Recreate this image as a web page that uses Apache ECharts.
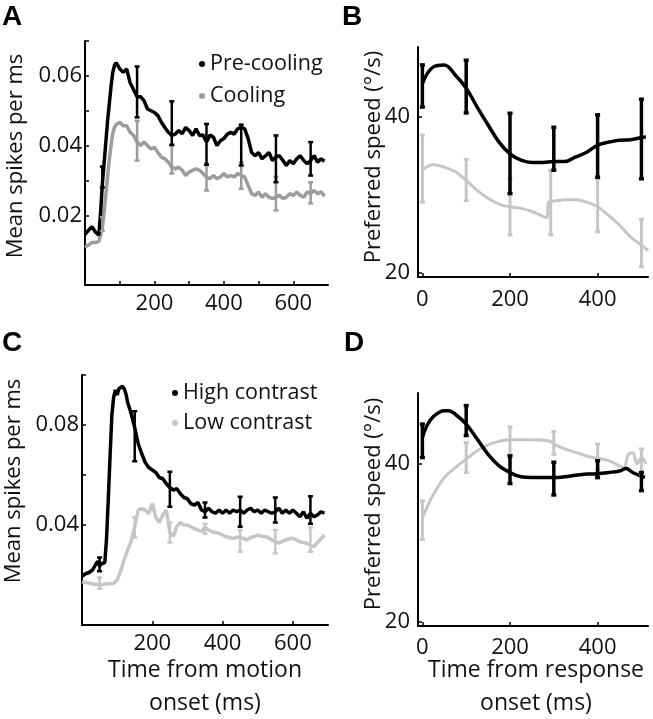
<!DOCTYPE html>
<html>
<head>
<meta charset="utf-8">
<script src="https://cdn.jsdelivr.net/npm/echarts@6/dist/echarts.min.js"></script>
<style>
html,body{margin:0;padding:0;background:#fff;}
#chart{width:653px;height:719px;}
</style>
</head>
<body>
<div id="chart"></div>
<script>
// ---------- Panel A : firing rate, pre-cooling vs cooling ----------
const timeA = [0,10,20,30,40,45,50,55,60,65,70,75,80,85,90,100,110,120,130,140,150,160,170,180,190,200,210,220,230,240,250,260,270,280,290,300,310,320,330,340,350,360,370,380,390,400,410,420,430,440,450,460,470,480,490,500,510,520,530,540,550,560,570,580,590,600,610,620,630,640,650,660,670,680,690];
const preCooling = [0.0145,0.0157,0.0167,0.0152,0.0143,0.021,0.029,0.035,0.041,0.047,0.052,0.057,0.061,0.063,0.0638,0.062,0.061,0.062,0.058,0.056,0.054,0.054,0.0529,0.0505,0.050,0.0495,0.0486,0.0467,0.0452,0.0438,0.0429,0.0433,0.0443,0.0434,0.0452,0.0443,0.0429,0.0448,0.0429,0.043,0.041,0.043,0.0424,0.040,0.0414,0.042,0.0433,0.0438,0.0433,0.0448,0.0452,0.0448,0.042,0.038,0.0371,0.038,0.0362,0.0371,0.038,0.0357,0.0367,0.0371,0.0357,0.0343,0.0357,0.0348,0.0362,0.0371,0.0357,0.0348,0.0357,0.0371,0.0352,0.0362,0.0355];
const cooling = [0.0108,0.0115,0.0122,0.0122,0.0125,0.0128,0.0165,0.021,0.026,0.031,0.036,0.040,0.0435,0.0452,0.046,0.0467,0.0457,0.0457,0.0438,0.0429,0.041,0.040,0.041,0.040,0.039,0.0395,0.038,0.0367,0.0362,0.0352,0.0338,0.0333,0.0338,0.0329,0.0314,0.0324,0.0329,0.0333,0.0329,0.032,0.031,0.0305,0.0314,0.0305,0.031,0.032,0.031,0.0314,0.031,0.032,0.0314,0.031,0.0286,0.0262,0.0257,0.0267,0.0252,0.0262,0.0252,0.0248,0.0252,0.0257,0.0248,0.0252,0.0262,0.0257,0.0267,0.0257,0.0252,0.0267,0.0262,0.0271,0.0262,0.0267,0.0255];
const errTimeA = [50,150,250,350,450,550,650];
const preLoA = [0.028,0.0481,0.0402,0.0345,0.0343,0.0295,0.0314];
const preHiA = [0.034,0.0627,0.0527,0.0462,0.046,0.0429,0.041];
const coolLoA = [0.0155,0.0357,0.032,0.0271,0.0276,0.0214,0.0234];
const coolHiA = [0.0195,0.0471,0.040,0.0348,0.0352,0.031,0.0295];
const xTicksA = [100,200,300,400,500,600];
const xLabelsA = [200,400,600];
const yTicksA = [0.02,0.03,0.04,0.05,0.06,0.07];
const yLabelsA = [0.02,0.04,0.06];

// ---------- Panel B : preferred speed, pre-cooling vs cooling ----------
const timeBpre = [0,25,50,75,100,125,150,175,200,225,250,275,300,325,350,375,400,425,450,475,500,510];
const speedBpre = [44.3,46.45,46.7,45.4,43.7,41.3,39.0,36.8,35.3,34.5,34.2,34.2,34.3,34.3,34.9,35.5,36.4,36.8,37.05,37.1,37.4,37.45];
const timeBcool = [0,25,50,75,100,125,150,175,200,225,250,284,288,310,325,350,375,400,425,450,475,500,515];
const speedBcool = [33.2,33.9,33.6,33.0,31.9,30.6,29.6,28.85,28.5,28.3,27.9,27.1,29.1,29.3,29.4,29.4,29.1,28.5,27.4,26.15,24.65,23.6,22.9];
const errTimeBpre = [0,100,200,300,400,500];
const preLoB = [41.3,40.55,30.2,33.2,32.3,32.1];
const preHiB = [46.7,47.3,40.5,38.7,40.3,42.3];
const errTimeBcool = [0,100,200,293,400,500];
const coolLoB = [29.1,29.3,24.9,24.9,25.3,20.8];
const coolHiB = [37.7,34.6,32.1,33.2,32.1,26.9];

// ---------- Panel C : firing rate, high vs low contrast ----------
const timeChigh = [0,10,20,30,40,45,50,55,60,65,70,75,80,85,90,95,100,105,110,115,120,125,130,140,150,160,170,180,190,200,210,220,230,240,250,260,270,280,290,300,310,320,330,340,350,360,370,380,390,400,410,420,430,440,450,460,470,480,490,500,510,520,530,540,550,560,570,580,590,600,610,620,630,640,650,660,670,680,690];
const highContrast = [0.0195,0.0205,0.021,0.022,0.0245,0.0255,0.0235,0.0245,0.0245,0.025,0.035,0.051,0.068,0.084,0.091,0.094,0.092,0.0945,0.094,0.0955,0.0945,0.0925,0.089,0.0845,0.079,0.0725,0.0685,0.065,0.063,0.062,0.061,0.059,0.0585,0.0565,0.055,0.054,0.0545,0.0525,0.051,0.0505,0.0485,0.048,0.049,0.046,0.0453,0.0467,0.0453,0.0447,0.046,0.0447,0.046,0.0447,0.046,0.0453,0.046,0.0447,0.046,0.0467,0.0453,0.046,0.0447,0.046,0.0453,0.0447,0.0453,0.0467,0.0447,0.046,0.0447,0.046,0.0447,0.0433,0.0453,0.0427,0.0447,0.0433,0.044,0.0453,0.0447];
const timeClow = [0,10,20,30,40,50,60,70,80,90,100,110,120,130,140,150,160,170,180,190,200,210,220,230,240,250,260,270,280,290,300,310,320,330,340,350,360,370,380,390,400,410,420,430,440,450,460,470,480,490,500,510,520,530,540,550,560,570,580,590,600,610,620,630,640,650,660,670,680,690];
const lowContrast = [0.0173,0.017,0.0168,0.0165,0.0163,0.016,0.0162,0.0165,0.0165,0.0167,0.018,0.0215,0.026,0.030,0.0335,0.0393,0.046,0.0465,0.046,0.0445,0.0487,0.043,0.041,0.044,0.046,0.037,0.0355,0.0395,0.041,0.040,0.040,0.0393,0.0385,0.038,0.0373,0.0393,0.038,0.0373,0.037,0.0367,0.036,0.0353,0.035,0.0347,0.035,0.0353,0.0345,0.034,0.035,0.0353,0.036,0.0355,0.0353,0.035,0.034,0.0335,0.0327,0.0335,0.034,0.0345,0.0347,0.034,0.0333,0.033,0.0327,0.032,0.0313,0.033,0.0345,0.036];
const errTimeC = [50,150,250,350,450,550,650];
const highLoC = [0.0215,0.0655,0.0473,0.043,0.0393,0.041,0.0405];
const highHiC = [0.027,0.0855,0.0613,0.049,0.0513,0.051,0.0515];
const lowLoC = [0.0145,0.035,0.033,0.0365,0.0293,0.0287,0.0293];
const lowHiC = [0.019,0.043,0.041,0.0405,0.038,0.038,0.039];
const xTicksC = [200,400,600];
const yTicksC = [0.04,0.06,0.08,0.1];
const yLabelsC = [0.04,0.08];

// ---------- Panel D : preferred speed, high vs low contrast ----------
const timeDhigh = [0,10,25,50,60,75,100,125,150,175,200,225,250,300,325,350,375,400,425,450,465,480,500,508];
const speedDhigh = [43.35,44.8,46.0,46.75,46.75,46.3,45.05,43.15,41.2,39.75,38.9,38.35,38.25,38.25,38.35,38.55,38.7,38.75,38.9,39.1,39.4,38.9,38.45,38.3];
const timeDlow = [0,10,25,50,75,100,125,150,175,200,250,290,300,325,350,375,400,425,450,460,470,480,490,500,510];
const speedDlow = [33.15,34.4,36.1,38.25,39.5,40.6,41.65,42.4,42.85,43.05,43.05,42.9,42.5,41.9,41.45,41.0,40.7,40.4,39.75,39.5,41.2,41.4,40.0,40.8,40.0];
const errTimeD = [0,100,200,300,400,500];
const highLoD = [40.8,43.6,37.5,36.05,38.25,36.6];
const highHiD = [45.05,47.4,41.0,40.2,40.4,38.9];
const lowLoD = [30.4,38.9,41.2,41.2,39.3,38.7];
const lowHiD = [35.3,42.7,44.7,44.1,42.5,41.9];
const xTicksBD = [0,200,400];
const yTicksBD = [20,40];

// ---------- styling ----------
const FONT = 'Open Sans';
const BLACK = '#000000';
const GRAY_A = '#9c9c9c';
const GRAY_L = '#c6c6c6';
const TXT = '#111111';

function pairs(xs, ys){ return xs.map((x,i)=>[x, ys[i]]); }
function triples(xs, lo, hi){ return xs.map((x,i)=>[x, lo[i], hi[i]]); }

function errSeries(gi, xs, lo, hi, color, w, cap){
  return {
    type:'custom', xAxisIndex:gi, yAxisIndex:gi, z:4,
    data: triples(xs, lo, hi),
    encode:{x:0, y:[1,2]},
    silent:true,
    renderItem:function(params, api){
      const x = api.value(0);
      const p1 = api.coord([x, api.value(1)]);
      const p2 = api.coord([x, api.value(2)]);
      const st = {stroke:color, lineWidth:w};
      return {type:'group', children:[
        {type:'line', shape:{x1:p1[0],y1:p1[1],x2:p2[0],y2:p2[1]}, style:st},
        {type:'line', shape:{x1:p1[0]-cap,y1:p1[1],x2:p1[0]+cap,y2:p1[1]}, style:st},
        {type:'line', shape:{x1:p2[0]-cap,y1:p2[1],x2:p2[0]+cap,y2:p2[1]}, style:st}
      ]};
    }
  };
}
function lineSeries(gi, name, xs, ys, color, w, smooth){
  return {type:'line', name:name, xAxisIndex:gi, yAxisIndex:gi, data:pairs(xs, ys),
    symbol:'none', smooth:smooth||false, lineStyle:{color:color, width:w}, itemStyle:{color:color}, z:3};
}

function xAxis(gi, min, max, ticks, labels, margin){
  return {type:'value', gridIndex:gi, min:min, max:max,
    axisLine:{show:true, onZero:false, lineStyle:{color:BLACK, width:2}},
    axisTick:{show:true, inside:true, length:4, lineStyle:{color:BLACK, width:1.5}, customValues:ticks},
    axisLabel:{show:true, customValues:labels, margin:margin, color:TXT, fontFamily:FONT, fontSize:22},
    splitLine:{show:false}};
}
function yAxis(gi, min, max, ticks, labels, margin, fmt){
  return {type:'value', gridIndex:gi, min:min, max:max,
    axisLine:{show:true, onZero:false, lineStyle:{color:BLACK, width:2}},
    axisTick:{show:true, inside:true, length:4, lineStyle:{color:BLACK, width:1.5}, customValues:ticks},
    axisLabel:{show:true, customValues:labels, margin:margin, color:TXT, fontFamily:FONT, fontSize:22, formatter:fmt},
    splitLine:{show:false}};
}
function txt(text, x, y, size, rot, extra){
  return Object.assign({type:'text', x:x, y:y, rotation:rot||0, silent:true,
    style:{text:text, fill:TXT, fontFamily:FONT, fontSize:size, textAlign:'center', textVerticalAlign:'middle'}}, extra||{});
}
function letter(t, x, y){
  return {type:'text', x:x, y:y, silent:true,
    style:{text:t, fill:BLACK, fontFamily:'Liberation Sans', fontWeight:'bold', fontSize:28, textAlign:'left', textVerticalAlign:'middle'}};
}

const chart = echarts.init(document.getElementById('chart'), null, {renderer:'canvas'});
chart.setOption({
  animation:false,
  backgroundColor:'#ffffff',
  grid:[
    {left:85, top:41, width:243, height:244},
    {left:418, top:47, width:230, height:230},
    {left:82, top:375, width:246, height:250},
    {left:418, top:393, width:230, height:233}
  ],
  xAxis:[
    xAxis(0, 0, 700, xTicksA, xLabelsA, 8),
    xAxis(1, -10, 515, xTicksBD, xTicksBD, 12),
    xAxis(2, 0, 700, xTicksC, xTicksC, 8),
    xAxis(3, -10, 515, xTicksBD, xTicksBD, 11)
  ],
  yAxis:[
    yAxis(0, 0, 0.07, yTicksA, yLabelsA, 3, v=>v.toFixed(2)),
    yAxis(1, 19.5, 49, yTicksBD, yTicksBD, 8, v=>String(v)),
    yAxis(2, 0, 0.1, yTicksC, yLabelsC, 3, v=>v.toFixed(2)),
    yAxis(3, 19.4, 49, yTicksBD, yTicksBD, 8, v=>String(v))
  ],
  legend:[
    {data:['Pre-cooling','Cooling'], orient:'vertical', left:199, top:53, padding:0, itemGap:10,
     icon:'circle', itemWidth:6, itemHeight:6, selectedMode:false,
     textStyle:{color:TXT, fontFamily:FONT, fontSize:21.5}},
    {data:['High contrast','Low contrast'], orient:'vertical', left:172, top:382, padding:0, itemGap:8,
     icon:'circle', itemWidth:6, itemHeight:6, selectedMode:false,
     textStyle:{color:TXT, fontFamily:FONT, fontSize:21.5}}
  ],
  series:[
    // A
    lineSeries(0, 'Cooling', timeA, cooling, GRAY_A, 3.5),
    errSeries(0, errTimeA, coolLoA, coolHiA, GRAY_A, 2.5, 2.5),
    lineSeries(0, 'Pre-cooling', timeA, preCooling, BLACK, 3.5),
    errSeries(0, errTimeA, preLoA, preHiA, BLACK, 2.5, 2.5),
    // B
    lineSeries(1, 'B cooling', timeBcool, speedBcool, GRAY_L, 3, 0.4),
    errSeries(1, errTimeBcool, coolLoB, coolHiB, GRAY_L, 3, 2.5),
    lineSeries(1, 'B pre-cooling', timeBpre, speedBpre, BLACK, 3.5, 0.4),
    errSeries(1, errTimeBpre, preLoB, preHiB, BLACK, 3.5, 2.5),
    // C
    lineSeries(2, 'Low contrast', timeClow, lowContrast, GRAY_L, 3.5),
    errSeries(2, errTimeC, lowLoC, lowHiC, GRAY_L, 2.5, 2.5),
    lineSeries(2, 'High contrast', timeChigh, highContrast, BLACK, 3.5),
    errSeries(2, errTimeC, highLoC, highHiC, BLACK, 2.5, 2.5),
    // D
    lineSeries(3, 'D low', timeDlow, speedDlow, GRAY_L, 3, 0.4),
    errSeries(3, errTimeD, lowLoD, lowHiD, GRAY_L, 3, 2.5),
    lineSeries(3, 'D high', timeDhigh, speedDhigh, BLACK, 3.5, 0.4),
    errSeries(3, errTimeD, highLoD, highHiD, BLACK, 3.5, 2.5)
  ],
  graphic:[
    letter('A', 2, 17), letter('B', 342, 17), letter('C', 2, 343), letter('D', 344, 343),
    txt('Mean spikes per ms', 16, 156, 22, Math.PI/2),
    txt('Mean spikes per ms', 14, 481, 22, Math.PI/2),
    txt('Preferred speed (°/s)', 374, 157, 22, Math.PI/2),
    txt('Preferred speed (°/s)', 374, 504, 22, Math.PI/2),
    txt('Time from motion', 205, 670, 23, 0),
    txt('onset (ms)', 205, 703, 23, 0),
    txt('Time from response', 536, 670, 23, 0),
    txt('onset (ms)', 536, 703, 23, 0)
  ]
});
</script>
</body>
</html>
